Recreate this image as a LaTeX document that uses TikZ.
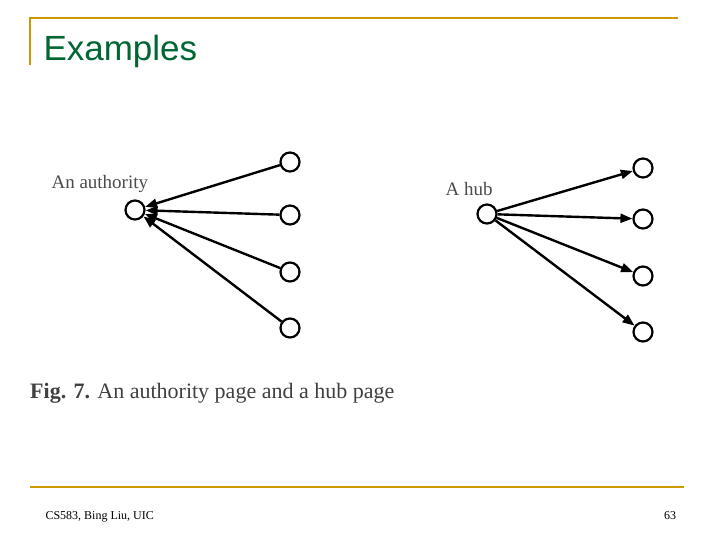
\documentclass[tikz,border=0pt]{standalone}
\usepackage{fontspec}
\setmainfont{Liberation Serif}
\newfontfamily\sans{Liberation Sans}
\usetikzlibrary{arrows.meta}
\definecolor{gold}{RGB}{204,153,0}
\definecolor{titlegreen}{RGB}{0,102,51}
\begin{document}
\begin{tikzpicture}[x=1pt,y=-1pt,
  nd/.style={circle,draw,line width=2.2pt,minimum size=19pt,inner sep=0pt},
  edge/.style={line width=2.4pt,-{Triangle[length=12pt,width=9pt]}},
  lbl/.style={font=\fontsize{19}{22}\selectfont,text=black!70}]
\useasboundingbox (0,0) rectangle (720,540);
\fill[white] (0,0) rectangle (720,540);
\draw[gold,line width=2pt] (30,65) -- (30,18) -- (678,18);
\draw[gold,line width=2pt] (30,487) -- (684,487);
\node[anchor=west,text=titlegreen,font=\sans\fontsize{35}{40}\selectfont] (title) at (40,51) {Examples};
\node[anchor=west,font=\fontsize{12}{14}\selectfont] (foot) at (42,517) {CS583, Bing Liu, UIC};
\node[font=\fontsize{12}{14}\selectfont] (pg) at (670,516) {63};
% authority
\node[nd] (a) at (135,210) {};
\node[lbl,anchor=west] (al) at (48,184) {An authority};
\node[nd] (a1) at (290,162) {};
\node[nd] (a2) at (290,215) {};
\node[nd] (a3) at (290,272) {};
\node[nd] (a4) at (290,328) {};
\foreach \n in {a1,a2,a3,a4} \draw[edge] (\n) -- (a);
% hub
\node[nd] (h) at (487,214) {};
\node[lbl,anchor=west] (hl) at (442,189) {A hub};
\node[nd] (h1) at (643,168) {};
\node[nd] (h2) at (643,219) {};
\node[nd] (h3) at (643,276) {};
\node[nd] (h4) at (643,332) {};
\foreach \n in {h1,h2,h3,h4} \draw[edge] (h) -- (\n);
\node[anchor=west,font=\fontsize{22}{26}\selectfont,text=black!75,inner sep=0pt] (cap) at (30,393) {\textbf{Fig. 7.} An authority page and a hub page};
\end{tikzpicture}
\end{document}
